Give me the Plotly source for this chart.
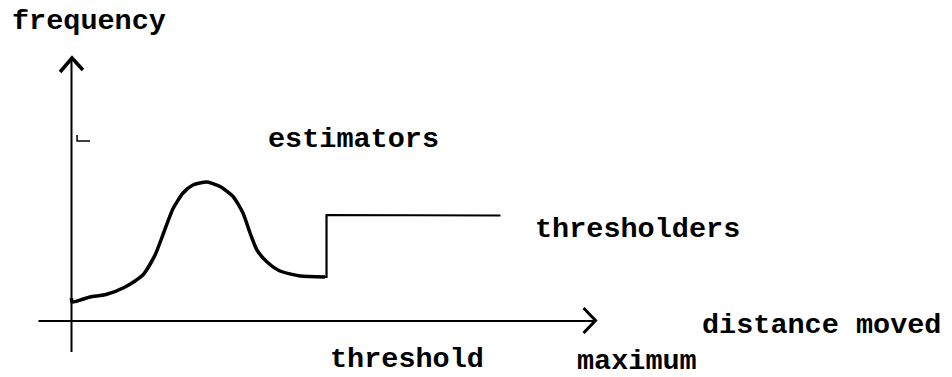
import plotly.graph_objects as go

W, H = 952, 377
# pixel scale: 1 x-unit = 25.4 px, origin at px 71.5; 1 y-unit = 10 px, origin at py 321
X0, XS = 71.5, 25.4
Y0, YS = 321.0, 10.0

# estimator frequency curve (distance moved, frequency)
est_x = [0.0, 0.02, 0.73, 1.36, 2.11, 2.81, 3.29, 3.64, 3.99, 4.39, 4.78, 5.33, 5.85, 6.36, 6.75, 7.03, 7.30, 7.70, 8.21, 9.0, 9.98]
est_y = [2.3, 1.9, 2.4, 2.65, 3.4, 4.6, 6.6, 8.9, 11.2, 12.8, 13.6, 13.9, 13.45, 12.45, 10.8, 8.8, 7.1, 5.9, 5.0, 4.5, 4.4]

# thresholder step
thr_x = [9.98, 10.04, 10.04, 16.89]
thr_y = [4.4, 4.4, 10.6, 10.55]

# axes
xaxis_x = [-1.3, 20.63]
xaxis_y = [0.0, 0.0]
yaxis_x = [0.0, 0.0]
yaxis_y = [-3.1, 26.2]
xarrow_x = [20.16, 20.63, 20.16]
xarrow_y = [1.3, 0.05, -1.2]
yarrow_x = [-0.45, 0.02, 0.45]
yarrow_y = [24.9, 26.3, 25.1]
mark_x = [0.22, 0.22, 0.73]
mark_y = [18.6, 18.0, 18.0]

labels = ["frequency", "estimators", "thresholders", "distance moved", "threshold", "maximum"]
label_px = [10, 266, 533, 700, 328, 575]
label_py = [21.8, 139.5, 229.5, 325.5, 359.5, 361.5]

fig = go.Figure()
line_col = "black"
fig.add_trace(go.Scatter(x=xaxis_x, y=xaxis_y, mode="lines", line=dict(color=line_col, width=2)))
fig.add_trace(go.Scatter(x=yaxis_x, y=yaxis_y, mode="lines", line=dict(color=line_col, width=2)))
fig.add_trace(go.Scatter(x=xarrow_x, y=xarrow_y, mode="lines", line=dict(color=line_col, width=3)))
fig.add_trace(go.Scatter(x=yarrow_x, y=yarrow_y, mode="lines", line=dict(color=line_col, width=3.5)))
fig.add_trace(go.Scatter(x=mark_x, y=mark_y, mode="lines", line=dict(color=line_col, width=1.5)))
fig.add_trace(go.Scatter(x=est_x, y=est_y, mode="lines", line=dict(color=line_col, width=3.5, shape="spline", smoothing=0.6)))
fig.add_trace(go.Scatter(x=thr_x, y=thr_y, mode="lines", line=dict(color=line_col, width=2.2)))

for t, px, py in zip(labels, label_px, label_py):
    fig.add_annotation(
        text=t, x=px / W, y=1 - py / H, xref="paper", yref="paper",
        xanchor="left", yanchor="middle", showarrow=False,
        font=dict(family="Liberation Mono", size=28.5, color="black", weight="bold"),
    )

fig.update_layout(
    width=W, height=H,
    margin=dict(l=0, r=0, t=0, b=0),
    paper_bgcolor="white", plot_bgcolor="white",
    showlegend=False,
    xaxis=dict(range=[-X0 / XS, (W - X0) / XS], visible=False, fixedrange=True),
    yaxis=dict(range=[-(H - Y0) / YS, Y0 / YS], visible=False, fixedrange=True),
)
fig.write_html("out.html", config={"displayModeBar": False},
               post_script="document.body.style.margin='0';document.body.style.overflow='hidden';")
